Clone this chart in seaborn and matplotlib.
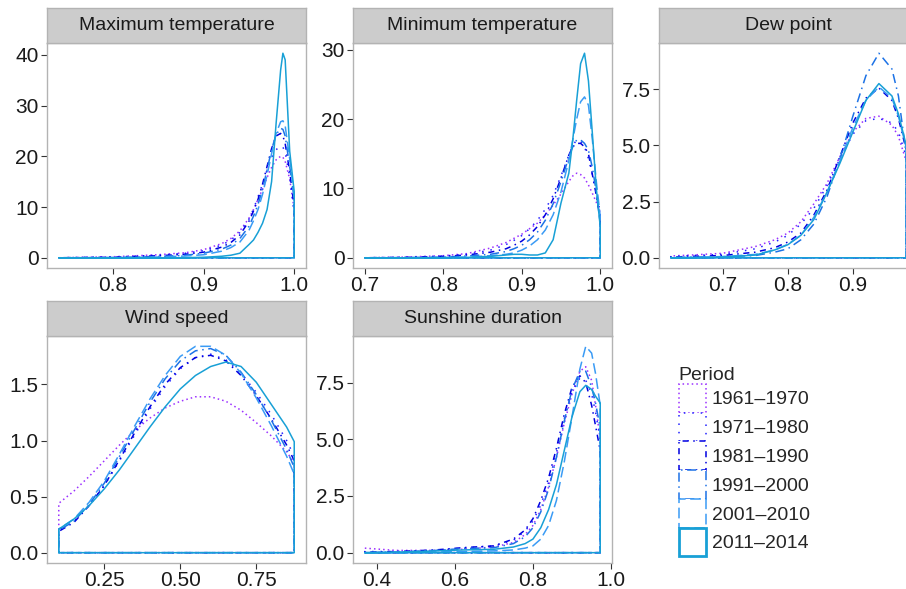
import pandas as pd
import matplotlib
matplotlib.use("Agg")
import matplotlib.pyplot as plt
import seaborn as sns
from matplotlib.patches import Patch

# periods and their styles
periods = ["1961–1970", "1971–1980", "1981–1990", "1991–2000", "2001–2010", "2011–2014"]
colors = ["#9B30FF", "#2222FF", "#0000E0", "#1C72E6", "#3A9BF5", "#18A0D6"]
dashes = [(1, 2), (1, 4.5), (1, 3, 4, 3), (1, 3, 6, 3), (7, 3), ""]

# --- Maximum temperature ---
tmax_x = [0.74, 0.80, 0.85, 0.88, 0.90, 0.92, 0.93, 0.94, 0.95, 0.955, 0.96, 0.965,
          0.97, 0.975, 0.98, 0.985, 0.9875, 0.99, 0.995, 1.0]
tmax_1961 = [0, 0.2, 0.6, 1.0, 1.6, 2.8, 3.8, 5.3, 7.8, 9.5, 11.5, 13.5, 15.8, 17.8, 19.3, 20.0, 19.8, 19.0, 15.5, 9.5]
tmax_1971 = [0, 0.15, 0.5, 0.9, 1.4, 2.5, 3.5, 5.0, 7.6, 9.6, 12.0, 14.5, 17.3, 19.8, 21.3, 22.0, 21.8, 20.8, 16.0, 8.5]
tmax_1981 = [0, 0.1, 0.4, 0.7, 1.1, 2.1, 3.0, 4.5, 7.2, 9.2, 11.5, 14.5, 18.0, 21.5, 24.0, 24.5, 24.0, 22.5, 17.0, 10.0]
tmax_1991 = [0, 0.05, 0.25, 0.5, 0.9, 1.7, 2.5, 3.8, 6.2, 8.2, 10.5, 13.5, 17.3, 21.3, 24.3, 25.5, 25.3, 24.0, 18.0, 11.5]
tmax_2001 = [0, 0.03, 0.15, 0.35, 0.6, 1.3, 2.0, 3.1, 5.4, 7.3, 9.5, 12.5, 16.3, 20.5, 24.5, 26.8, 27.0, 26.0, 19.5, 12.0]
tmax_2011 = [0, 0, 0, 0.02, 0.1, 0.3, 0.5, 0.9, 2.6, 3.5, 5.0, 6.8, 9.5, 15.0, 26.5, 37.0, 40.3, 39.0, 21.0, 13.0]

# --- Minimum temperature ---
tmin_x = [0.70, 0.75, 0.80, 0.83, 0.86, 0.88, 0.89, 0.90, 0.91, 0.92, 0.93, 0.94, 0.95,
          0.96, 0.965, 0.97, 0.975, 0.98, 0.985, 0.99, 0.995, 1.0]
tmin_1961 = [0, 0.1, 0.3, 0.6, 1.4, 2.2, 2.8, 3.4, 4.2, 5.0, 6.2, 7.6, 9.2, 11.0, 11.8, 12.2, 12.0, 11.5, 10.5, 9.3, 8.0, 6.5]
tmin_1971 = [0, 0.05, 0.25, 0.5, 1.1, 1.9, 2.5, 3.2, 4.2, 5.4, 7.0, 9.0, 11.8, 14.8, 16.2, 17.0, 16.8, 16.0, 14.3, 12.0, 9.5, 6.5]
tmin_1981 = [0, 0.05, 0.2, 0.4, 0.8, 1.3, 1.8, 2.4, 3.3, 4.5, 6.2, 8.5, 11.5, 14.8, 16.0, 16.5, 16.5, 16.0, 15.0, 12.0, 9.0, 5.5]
tmin_1991 = [0, 0.03, 0.1, 0.25, 0.5, 0.9, 1.3, 1.8, 2.6, 3.7, 5.4, 7.8, 11.0, 14.5, 16.0, 17.0, 17.0, 16.5, 15.5, 13.0, 9.5, 5.0]
tmin_2001 = [0, 0, 0.05, 0.1, 0.3, 0.5, 0.7, 1.1, 1.7, 2.6, 4.0, 6.2, 9.5, 14.0, 17.0, 20.0, 22.5, 23.2, 22.0, 17.0, 11.0, 6.0]
tmin_2011 = [0, 0, 0, 0.05, 0.2, 0.4, 0.5, 0.5, 0.4, 0.4, 0.7, 2.6, 7.9, 12.2, 17.0, 22.7, 28.0, 29.5, 25.5, 17.9, 10.0, 4.5]

# --- Dew point ---
dew_x = [0.62, 0.65, 0.70, 0.75, 0.78, 0.80, 0.82, 0.84, 0.86, 0.88, 0.90, 0.92, 0.94, 0.96, 0.97, 0.982]
dew_1961 = [0.08, 0.12, 0.2, 0.5, 0.8, 1.1, 1.6, 2.4, 3.3, 4.5, 5.6, 6.2, 6.3, 5.9, 5.4, 4.3]
dew_1971 = [0.05, 0.1, 0.15, 0.4, 0.7, 1.0, 1.5, 2.2, 3.2, 4.4, 5.5, 6.1, 6.2, 6.0, 5.6, 4.5]
dew_1981 = [0.03, 0.06, 0.1, 0.25, 0.45, 0.7, 1.1, 1.9, 3.0, 4.5, 6.0, 7.1, 7.55, 7.0, 6.2, 4.8]
dew_1991 = [0.02, 0.03, 0.05, 0.1, 0.25, 0.4, 0.8, 1.5, 2.7, 4.4, 6.3, 8.1, 9.1, 8.4, 7.2, 4.6]
dew_2001 = [0, 0.02, 0.05, 0.15, 0.35, 0.6, 1.0, 1.8, 2.9, 4.3, 5.8, 7.0, 7.6, 7.1, 6.3, 4.9]
dew_2011 = [0, 0, 0.03, 0.12, 0.35, 0.58, 1.0, 1.7, 2.9, 4.2, 5.6, 7.0, 7.75, 7.2, 6.4, 5.0]

# --- Wind speed ---
wind_x = [0.10, 0.15, 0.20, 0.25, 0.30, 0.35, 0.40, 0.45, 0.50, 0.55, 0.60, 0.65, 0.70, 0.75, 0.80, 0.85, 0.875]
wind_1961 = [0.44, 0.55, 0.68, 0.82, 0.96, 1.09, 1.20, 1.29, 1.35, 1.39, 1.39, 1.35, 1.27, 1.16, 1.04, 0.90, 0.80]
wind_1971 = [0.20, 0.28, 0.42, 0.60, 0.82, 1.05, 1.28, 1.48, 1.64, 1.74, 1.77, 1.72, 1.60, 1.43, 1.23, 1.00, 0.86]
wind_1981 = [0.19, 0.27, 0.42, 0.60, 0.83, 1.07, 1.30, 1.50, 1.65, 1.74, 1.76, 1.71, 1.58, 1.40, 1.19, 0.96, 0.82]
wind_1991 = [0.20, 0.28, 0.43, 0.62, 0.86, 1.10, 1.34, 1.55, 1.71, 1.80, 1.82, 1.76, 1.61, 1.41, 1.18, 0.92, 0.76]
wind_2001 = [0.21, 0.30, 0.45, 0.64, 0.88, 1.13, 1.37, 1.58, 1.75, 1.84, 1.84, 1.76, 1.60, 1.38, 1.13, 0.86, 0.70]
wind_2011 = [0.21, 0.30, 0.42, 0.57, 0.74, 0.93, 1.12, 1.30, 1.46, 1.58, 1.66, 1.70, 1.66, 1.52, 1.32, 1.12, 0.99]

# --- Sunshine duration ---
sun_x = [0.37, 0.45, 0.55, 0.62, 0.70, 0.75, 0.78, 0.80, 0.82, 0.84, 0.86, 0.88, 0.90,
         0.92, 0.935, 0.95, 0.96, 0.972]
sun_1961 = [0.20, 0.10, 0.10, 0.15, 0.25, 0.45, 0.80, 1.20, 1.90, 2.90, 4.20, 5.70, 7.00, 8.00, 8.20, 7.60, 6.50, 5.00]
sun_1971 = [0.05, 0.05, 0.10, 0.20, 0.30, 0.55, 0.95, 1.40, 2.10, 3.10, 4.40, 5.90, 7.10, 7.70, 7.60, 7.00, 6.20, 5.00]
sun_1981 = [0.02, 0.05, 0.12, 0.22, 0.30, 0.60, 1.00, 1.50, 2.30, 3.30, 4.60, 6.10, 7.30, 7.80, 7.50, 6.50, 5.60, 4.50]
sun_1991 = [0.0, 0.03, 0.10, 0.18, 0.22, 0.40, 0.70, 1.10, 1.80, 2.80, 4.20, 5.80, 7.20, 8.00, 8.00, 7.30, 6.60, 5.50]
sun_2001 = [0.0, 0.0, 0.03, 0.05, 0.08, 0.12, 0.20, 0.30, 0.60, 1.20, 2.30, 4.00, 6.00, 8.10, 9.10, 8.80, 7.90, 6.50]
sun_2011 = [0.0, 0.02, 0.08, 0.12, 0.15, 0.25, 0.40, 0.60, 1.10, 1.90, 3.00, 4.50, 6.00, 7.10, 7.38, 7.20, 6.90, 6.60]

panels = [
    ("Maximum temperature", tmax_x, [tmax_1961, tmax_1971, tmax_1981, tmax_1991, tmax_2001, tmax_2011],
     [0.8, 0.9, 1.0], "%.1f", [0, 10, 20, 30, 40], "%d"),
    ("Minimum temperature", tmin_x, [tmin_1961, tmin_1971, tmin_1981, tmin_1991, tmin_2001, tmin_2011],
     [0.7, 0.8, 0.9, 1.0], "%.1f", [0, 10, 20, 30], "%d"),
    ("Dew point", dew_x, [dew_1961, dew_1971, dew_1981, dew_1991, dew_2001, dew_2011],
     [0.7, 0.8, 0.9], "%.1f", [0, 2.5, 5.0, 7.5], "%.1f"),
    ("Wind speed", wind_x, [wind_1961, wind_1971, wind_1981, wind_1991, wind_2001, wind_2011],
     [0.25, 0.50, 0.75], "%.2f", [0, 0.5, 1.0, 1.5], "%.1f"),
    ("Sunshine duration", sun_x, [sun_1961, sun_1971, sun_1981, sun_1991, sun_2001, sun_2011],
     [0.4, 0.6, 0.8, 1.0], "%.1f", [0, 2.5, 5.0, 7.5], "%.1f"),
]

W, H = 906, 589
sns.set_style("white")
plt.rcParams["font.family"] = ["Liberation Sans", "DejaVu Sans"]

fig = plt.figure(figsize=(W / 100, H / 100), dpi=100)

# panel boxes in pixels: (left, top of plot area, bottom)
lefts = [47, 353, 659, 47, 353]
tops = [43, 43, 43, 336, 336]
bottoms = [268, 268, 268, 563, 563]
pw = 259
strip_h = 35

palette = dict(zip(periods, colors))
dash_map = dict(zip(periods, dashes))

for i, (title, xs, series, xticks, xfmt, yticks, yfmt) in enumerate(panels):
    l, t, b = lefts[i], tops[i], bottoms[i]
    ax = fig.add_axes([l / W, 1 - b / H, pw / W, (b - t) / H])
    sax = fig.add_axes([l / W, 1 - t / H, pw / W, strip_h / H])

    rows = []
    for p, ys in zip(periods, series):
        # closed density outline: up from baseline, along curve, down, back along baseline
        px = [xs[0]] + list(xs) + [xs[-1], xs[0]]
        py = [0] + list(ys) + [0, 0]
        for k, (a, c) in enumerate(zip(px, py)):
            rows.append({"x": a, "y": c, "Period": p, "k": k})
    df = pd.DataFrame(rows)

    sns.lineplot(data=df, x="x", y="y", hue="Period", style="Period",
                 hue_order=periods, style_order=periods,
                 palette=palette, dashes=dash_map, sort=False, estimator=None,
                 linewidth=1.1, legend=False, ax=ax)

    r = xs[-1] - xs[0]
    ymax = max(max(s) for s in series)
    ax.set_xlim(xs[0] - 0.05 * r, xs[-1] + 0.05 * r)
    ax.set_ylim(-0.05 * ymax, ymax * 1.05)
    ax.set_xticks(xticks)
    ax.set_xticklabels([xfmt % v for v in xticks])
    ax.set_yticks(yticks)
    ax.set_yticklabels([yfmt % v for v in yticks])
    ax.set_xlabel("")
    ax.set_ylabel("")
    ax.tick_params(axis="both", which="both", length=4, width=0.8, color="#333333",
                   labelsize=15, labelcolor="#1A1A1A", pad=2, direction="out",
                   bottom=True, left=True)
    for sp in ax.spines.values():
        sp.set_color("#B3B3B3")
        sp.set_linewidth(1.0)

    sax.set_facecolor("#CCCCCC")
    sax.set_xticks([])
    sax.set_yticks([])
    for sp in sax.spines.values():
        sp.set_color("#B3B3B3")
        sp.set_linewidth(1.0)
    sax.text(0.5, 0.5, title, ha="center", va="center", fontsize=14,
             color="#1A1A1A", transform=sax.transAxes)

# legend with outlined boxes like density keys
handles = [Patch(facecolor="white", edgecolor=c, linestyle=(0, d) if d else "-",
                 linewidth=1.1 if d else 2.0)
           for c, d in zip(colors, dashes)]
leg = fig.legend(handles, periods, title="Period", loc="upper left",
                 bbox_to_anchor=(671 / W, 1 - 359 / H), frameon=False,
                 fontsize=14, title_fontsize=14, handlelength=1.4, handleheight=1.9,
                 handletextpad=0.3, labelspacing=0.0, borderaxespad=0)
leg._legend_box.align = "left"

fig.savefig("out.png", dpi=100)
